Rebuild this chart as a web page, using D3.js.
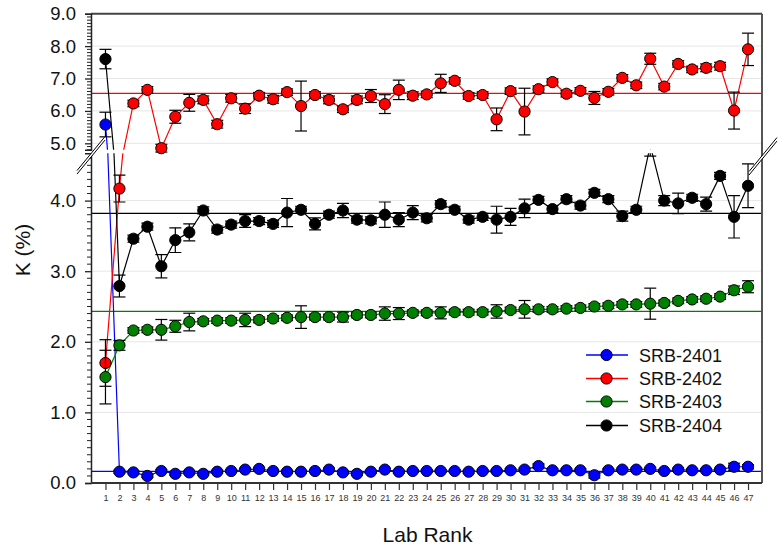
<!DOCTYPE html>
<html><head><meta charset="utf-8">
<script src="https://cdn.jsdelivr.net/npm/d3@7/dist/d3.min.js"></script>
<style>html,body{margin:0;padding:0;background:#fff;} svg{display:block;font-family:"Liberation Sans",Arial,sans-serif;}</style>
</head><body><svg id="c" width="781" height="548"></svg>
<script>
const ranks = [1,2,3,4,5,6,7,8,9,10,11,12,13,14,15,16,17,18,19,20,21,22,23,24,25,26,27,28,29,30,31,32,33,34,35,36,37,38,39,40,41,42,43,44,45,46,47];
const seriesNames = ["SRB-2401","SRB-2402","SRB-2403","SRB-2404"];
const seriesColors = ["#0000ff","#ff0000","#008000","#000000"];
const blue = [5.58,0.16,0.15,0.10,0.17,0.13,0.15,0.13,0.16,0.17,0.19,0.20,0.17,0.16,0.16,0.17,0.19,0.15,0.13,0.16,0.19,0.16,0.17,0.17,0.17,0.17,0.16,0.17,0.17,0.18,0.19,0.24,0.18,0.18,0.18,0.11,0.18,0.19,0.19,0.20,0.17,0.19,0.18,0.18,0.19,0.23,0.23];
const blueErr = [0.38,0.02,0.02,0.02,0.02,0.02,0.02,0.02,0.02,0.02,0.02,0.02,0.02,0.02,0.02,0.02,0.02,0.02,0.02,0.02,0.02,0.02,0.02,0.02,0.02,0.02,0.02,0.02,0.02,0.02,0.02,0.03,0.02,0.02,0.02,0.04,0.02,0.02,0.02,0.02,0.02,0.02,0.02,0.02,0.02,0.05,0.03];
const red = [1.70,4.17,6.23,6.65,4.85,5.82,6.25,6.34,5.59,6.39,6.07,6.47,6.36,6.58,6.15,6.49,6.34,6.05,6.34,6.46,6.21,6.65,6.47,6.51,6.85,6.93,6.46,6.49,5.74,6.61,5.98,6.67,6.89,6.53,6.62,6.40,6.59,7.02,6.79,7.61,6.75,7.45,7.28,7.33,7.38,6.01,7.90];
const redErr = [0.33,0.19,0.1,0.1,0.12,0.2,0.26,0.12,0.12,0.12,0.15,0.1,0.12,0.1,0.77,0.1,0.12,0.1,0.12,0.2,0.29,0.3,0.12,0.1,0.28,0.1,0.1,0.1,0.35,0.1,0.72,0.1,0.1,0.1,0.1,0.2,0.1,0.1,0.1,0.17,0.1,0.1,0.1,0.12,0.12,0.57,0.5];
const green = [1.50,1.95,2.16,2.17,2.17,2.22,2.28,2.29,2.30,2.30,2.31,2.31,2.33,2.34,2.35,2.35,2.35,2.35,2.38,2.38,2.40,2.40,2.41,2.41,2.41,2.42,2.42,2.42,2.43,2.45,2.46,2.46,2.46,2.47,2.48,2.50,2.51,2.53,2.53,2.54,2.55,2.58,2.60,2.61,2.64,2.73,2.78];
const greenErr = [0.38,0.07,0.04,0.04,0.146,0.085,0.125,0.04,0.04,0.04,0.095,0.04,0.04,0.04,0.16,0.04,0.04,0.07,0.04,0.04,0.095,0.085,0.04,0.04,0.085,0.04,0.04,0.04,0.095,0.04,0.125,0.04,0.04,0.04,0.04,0.04,0.04,0.04,0.04,0.22,0.04,0.04,0.04,0.04,0.04,0.06,0.085];
const black = [7.60,2.79,3.46,3.63,3.07,3.44,3.55,3.86,3.59,3.66,3.71,3.71,3.67,3.83,3.87,3.67,3.80,3.86,3.73,3.72,3.80,3.73,3.83,3.75,3.95,3.87,3.73,3.77,3.73,3.77,3.89,4.01,3.88,4.02,3.93,4.11,4.02,3.78,3.87,4.78,4.00,3.96,4.04,3.95,4.35,3.77,4.21];
const blackErr = [0.3,0.155,0.05,0.05,0.165,0.175,0.12,0.05,0.05,0.05,0.09,0.05,0.05,0.2,0.05,0.085,0.05,0.1,0.05,0.05,0.18,0.1,0.1,0.05,0.05,0.05,0.05,0.05,0.19,0.12,0.13,0.05,0.05,0.05,0.05,0.05,0.05,0.07,0.05,0.15,0.07,0.146,0.05,0.1,0.05,0.3,0.31];
const means = [0.165, 6.54, 2.43, 3.82];
const upperTicks = [5.0,6.0,7.0,8.0,9.0];
const lowerTicks = [0.0,1.0,2.0,3.0,4.0];
const upperDomain = [4.8, 9.0];
const lowerDomain = [0, 4.67];
const xTitle = "Lab Rank", yTitle = "K (%)";

const values = [blue, red, green, black];
const errs = [blueErr, redErr, greenErr, blackErr];

const L = 91, R = 762, T = 13.7, B = 483;
const upBottom = 149.8, lowTop = 153.3;
const svg = d3.select("#c");
const x = d3.scaleLinear().domain([0, 48]).range([L + 0.5, R]);
const yU = d3.scaleLinear().domain(upperDomain).range([upBottom, T]);
const yL = d3.scaleLinear().domain(lowerDomain).range([B, lowTop]);

const defs = svg.append("defs");
defs.append("clipPath").attr("id","clipU").append("rect").attr("x",L).attr("y",T).attr("width",R-L).attr("height",upBottom-T);
defs.append("clipPath").attr("id","clipL").append("rect").attr("x",L).attr("y",lowTop).attr("width",R-L).attr("height",B-lowTop);

// gridlines
const grid = svg.append("g").attr("stroke","#e6e6e6").attr("stroke-width",1);
upperTicks.filter(t=>t<9).forEach(t=>grid.append("line").attr("x1",L).attr("x2",R).attr("y1",yU(t)).attr("y2",yU(t)));
lowerTicks.filter(t=>t>0).forEach(t=>grid.append("line").attr("x1",L).attr("x2",R).attr("y1",yL(t)).attr("y2",yL(t)));

// mean lines
means.forEach((m,i)=>{
  [[yU,"clipU"],[yL,"clipL"]].forEach(([ys,cp])=>{
    svg.append("line").attr("clip-path",`url(#${cp})`).attr("x1",L).attr("x2",R)
      .attr("y1",ys(m)).attr("y2",ys(m)).attr("stroke",seriesColors[i]).attr("stroke-width",1.3);
  });
});

// series lines
values.forEach((vals,i)=>{
  [[yU,"clipU"],[yL,"clipL"]].forEach(([ys,cp])=>{
    const line = d3.line().x((d,j)=>x(ranks[j])).y(d=>ys(d));
    svg.append("path").attr("clip-path",`url(#${cp})`).attr("d",line(vals))
      .attr("fill","none").attr("stroke",seriesColors[i]).attr("stroke-width",1.2);
  });
});

// error bars & markers
values.forEach((vals,i)=>{
  const g = svg.append("g");
  vals.forEach((v,j)=>{
    const inUpper = v >= upperDomain[0];
    const inLower = v <= lowerDomain[1];
    const ys = inUpper ? yU : yL;
    const eg = g.append("g").attr("stroke","#000").attr("stroke-width",1.2);
    if (!inUpper) eg.attr("clip-path","url(#clipL)");
    const cx = x(ranks[j]), e = errs[i][j];
    const y1 = ys(v+e), y2 = ys(v-e);
    eg.append("line").attr("x1",cx).attr("x2",cx).attr("y1",y1).attr("y2",y2);
    eg.append("line").attr("x1",cx-6).attr("x2",cx+6).attr("y1",y1).attr("y2",y1);
    eg.append("line").attr("x1",cx-6).attr("x2",cx+6).attr("y1",y2).attr("y2",y2);
    if (inUpper || inLower) {
      g.append("circle").attr("cx",cx).attr("cy",ys(v)).attr("r",5.6)
        .attr("fill",seriesColors[i]).attr("stroke","#000").attr("stroke-width",1);
    }
  });
});

// frame
svg.append("line").attr("x1",L).attr("x2",R).attr("y1",T).attr("y2",T).attr("stroke","#444").attr("stroke-width",2);
svg.append("line").attr("x1",R).attr("x2",R).attr("y1",T).attr("y2",B).attr("stroke","#555").attr("stroke-width",2);

// axes
const axU = d3.axisLeft(yU).tickValues(upperTicks).tickFormat(d3.format(".1f")).tickSize(6).tickPadding(9);
const axL = d3.axisLeft(yL).tickValues(lowerTicks).tickFormat(d3.format(".1f")).tickSize(6).tickPadding(9);
function styleAxis(g){
  g.select(".domain").attr("stroke","#222").attr("stroke-width",1.5);
  g.selectAll(".tick line").attr("stroke","#222").attr("stroke-width",1.3);
  g.selectAll(".tick text").attr("font-size",18.5).attr("fill","#111").attr("font-family","Liberation Sans, Arial, sans-serif");
}
const gU = svg.append("g").attr("transform",`translate(${L},0)`).call(axU).call(styleAxis);
const gL = svg.append("g").attr("transform",`translate(${L},0)`).call(axL).call(styleAxis);
// minor ticks
const minorU = d3.range(48,91).map(d=>d/10).filter(d=>d%1!==0);
const minorL = d3.range(0,47).map(d=>d/10).filter(d=>Math.abs(d-Math.round(d))>1e-9);
minorU.forEach(t=>svg.append("line").attr("x1",L-4).attr("x2",L).attr("y1",yU(t)).attr("y2",yU(t)).attr("stroke","#222").attr("stroke-width",1));
minorL.forEach(t=>svg.append("line").attr("x1",L-4).attr("x2",L).attr("y1",yL(t)).attr("y2",yL(t)).attr("stroke","#222").attr("stroke-width",1));

// x axis
const ax = d3.axisBottom(x).tickValues(ranks).tickFormat(d3.format("d")).tickSize(7).tickPadding(5);
const gx = svg.append("g").attr("transform",`translate(0,${B})`).call(ax);
gx.select(".domain").attr("d",`M${L},0H${R}`).attr("stroke","#333").attr("stroke-width",2);
gx.selectAll(".tick line").attr("stroke","#333").attr("stroke-width",1.2);
gx.selectAll(".tick text").attr("font-size",9).attr("fill","#333").attr("font-family","Liberation Sans, Arial, sans-serif");

// break marks
function breakMark(cx, cy){
  const dx = 14, dy = 17, off = 3.5;
  svg.append("polygon").attr("points",`${cx-dx},${cy+dy} ${cx+dx},${cy-dy} ${cx+dx},${cy-dy+off} ${cx-dx},${cy+dy+off}`).attr("fill","#fff");
  svg.append("line").attr("x1",cx-dx).attr("y1",cy+dy).attr("x2",cx+dx).attr("y2",cy-dy).attr("stroke","#000").attr("stroke-width",1);
  svg.append("line").attr("x1",cx-dx).attr("y1",cy+dy+off).attr("x2",cx+dx).attr("y2",cy-dy+off).attr("stroke","#000").attr("stroke-width",1);
}
breakMark(L, (upBottom+lowTop)/2 + 2);
breakMark(R + 1, (upBottom+lowTop)/2 + 3);

// titles
svg.append("text").attr("x",(L+R)/2 + 1).attr("y",542).attr("text-anchor","middle").attr("font-size",21).attr("fill","#111").text(xTitle);
svg.append("text").attr("transform",`translate(30,250) rotate(-90)`).attr("text-anchor","middle").attr("font-size",21).attr("fill","#111").text(yTitle);

// legend
const leg = svg.append("g");
const legY = [355, 378.5, 401.5, 425.5];
seriesNames.forEach((n,i)=>{
  leg.append("line").attr("x1",586).attr("x2",628).attr("y1",legY[i]).attr("y2",legY[i]).attr("stroke",seriesColors[i]).attr("stroke-width",1.3);
  leg.append("circle").attr("cx",606.5).attr("cy",legY[i]).attr("r",5.6).attr("fill",seriesColors[i]).attr("stroke","#000");
  leg.append("text").attr("x",639).attr("y",legY[i]+6.5).attr("font-size",18).attr("fill","#111").text(n);
});
</script></body></html>
